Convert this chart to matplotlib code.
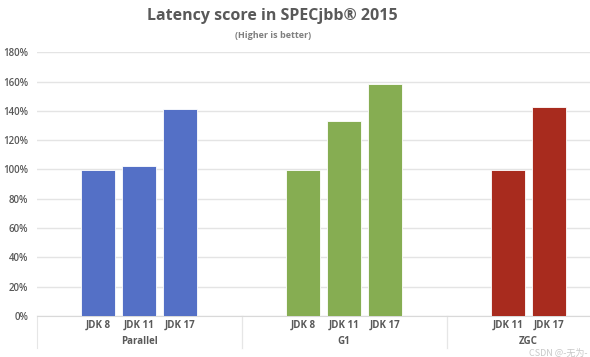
import matplotlib.pyplot as plt
import matplotlib.transforms as mtransforms
from matplotlib.ticker import FuncFormatter, MultipleLocator

plt.rcParams["font.family"] = ["Open Sans", "Noto Sans CJK SC", "DejaVu Sans"]

# ------------------------------------------------------------------
# Data (percent of JDK baseline)
# ------------------------------------------------------------------
COLLECTORS = ["Parallel", "G1", "ZGC"]
PARALLEL_JDKS = ["JDK 8", "JDK 11", "JDK 17"]
PARALLEL_SCORE = [100, 102.5, 141]
G1_JDKS = ["JDK 8", "JDK 11", "JDK 17"]
G1_SCORE = [100, 133, 158.5]
ZGC_JDKS = ["JDK 11", "JDK 17"]
ZGC_SCORE = [100, 143]

COLORS = ["#5470C6", "#86AD52", "#A82B1E"]
TEXT_COLOR = "#595959"
GRID_COLOR = "#E4E4E4"

# each group: blank slot, bars, blank slot
groups = [(PARALLEL_JDKS, PARALLEL_SCORE), (G1_JDKS, G1_SCORE), (ZGC_JDKS, ZGC_SCORE)]

fig = plt.figure(figsize=(5.9, 3.57), dpi=100)
ax = fig.add_axes([36.5 / 590, 41 / 357, 1 - 36.5 / 590, (316 - 52.3) / 357])

tick_pos, tick_lab = [], []
group_bounds, group_mid = [], []
start = 0
for (jdks, scores), color in zip(groups, COLORS):
    xs = [start + 1 + i for i in range(len(jdks))]
    ax.bar(xs, [s / 100 for s in scores], width=0.85, color=color,
           edgecolor="white", linewidth=0.6, zorder=3)
    tick_pos += xs
    tick_lab += jdks
    end = start + len(jdks) + 2
    group_bounds.append((start - 0.5, end - 0.5))
    group_mid.append(sum(xs) / len(xs))
    start = end

ax.set_xlim(-0.5, 13.0)
ax.set_ylim(0, 1.8)
ax.yaxis.set_major_locator(MultipleLocator(0.2))
ax.yaxis.set_major_formatter(FuncFormatter(lambda v, p: f"{v * 100:.0f}%"))
ax.grid(axis="y", color=GRID_COLOR, linewidth=1.0, zorder=0)

for s in ["top", "right", "left"]:
    ax.spines[s].set_visible(False)
ax.spines["bottom"].set_color("#D9D9D9")

ax.tick_params(axis="y", length=0, pad=6, labelsize=7, labelcolor=TEXT_COLOR)
ax.set_xticks(tick_pos)
ax.set_xticklabels(tick_lab, fontsize=7, fontweight="bold", color=TEXT_COLOR)
ax.tick_params(axis="x", length=0, pad=3)
for lbl in ax.get_yticklabels():
    lbl.set_fontweight("semibold")

trans = mtransforms.blended_transform_factory(ax.transData, ax.transAxes)
for name, (lo, hi), mid in zip(COLLECTORS, group_bounds, group_mid):
    ax.text(mid, -0.097, name, transform=trans, ha="center", va="center",
            fontsize=7, fontweight="bold", color=TEXT_COLOR)
    for xb in (lo, hi):
        ax.plot([xb, xb], [0, -0.12], transform=trans, color="#E6E6E6",
                linewidth=0.8, clip_on=False)

fig.text(0.462, 0.955, "Latency score in SPECjbb\u00ae 2015", ha="center", va="center",
         fontsize=11.5, fontweight="bold", color=TEXT_COLOR)
fig.text(0.462, 0.9, "(Higher is better)", ha="center", va="center",
         fontsize=6.5, fontweight="bold", color="#7F7F7F")

# faint site watermark in the bottom-right corner
fig.text(0.995, 0.012, "CSDN @-无为-", ha="right", va="center", fontsize=6.5,
         color="#C8C8C8", family=["Noto Sans CJK SC", "DejaVu Sans"])

fig.savefig("out.png", dpi=100)
